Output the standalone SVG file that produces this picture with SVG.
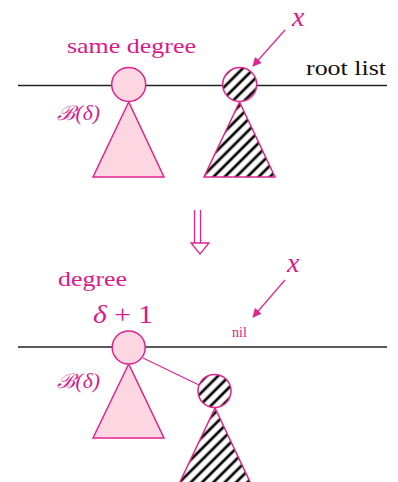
<svg xmlns="http://www.w3.org/2000/svg" width="398" height="482" viewBox="0 0 398 482">
<style>
.node{fill:#fcd7e1;stroke:#e0238f;stroke-width:1.5}
.hatch{fill:url(#hatch);stroke:#e0238f;stroke-width:1.5}
.lbl{font-family:"Liberation Serif","Times New Roman",serif;fill:#d91a8a}
.base{stroke:#222;stroke-width:1.5;fill:none}
.ptr{stroke:#e0238f;stroke-width:1.2;fill:none}
</style>
<defs>
<pattern id="hatch" patternUnits="userSpaceOnUse" width="8" height="8" patternTransform="rotate(-45)">
<rect width="8" height="8" fill="#fff"/>
<line x1="0" y1="4" x2="8" y2="4" stroke="#000" stroke-width="2.7"/>
</pattern>
<marker id="ah" viewBox="0 0 10 10" refX="9" refY="5" markerWidth="9" markerHeight="9" markerUnits="userSpaceOnUse" orient="auto">
<path d="M0,0 L10,5 L0,10 z" fill="#e0238f"/>
</marker>
</defs>

<g id="connectors">
<line class="base" x1="18" y1="85.5" x2="387" y2="85.5"/>
<line class="ptr" x1="285" y1="30" x2="253" y2="66" marker-end="url(#ah)"/>
<g id="transition-arrow" fill="none" stroke="#e0238f" stroke-width="1.3">
<line x1="194.5" y1="210" x2="194.5" y2="243"/>
<line x1="200.5" y1="210" x2="200.5" y2="243"/>
<path d="M191,243 L209,243 L200,254 z" fill="#fff"/>
</g>
<line class="base" x1="18" y1="347" x2="387" y2="347"/>
<line class="ptr" x1="285" y1="280" x2="253" y2="317" marker-end="url(#ah)"/>
<line class="ptr" x1="143" y1="358" x2="199" y2="385"/>
</g>

<g id="top-left">
<polygon class="node" points="128.7,102 93,177 164,177"/>
<circle class="node" cx="128.7" cy="84.5" r="17"/>
</g>
<g id="top-x">
<polygon class="hatch" points="239.5,102 204,177 275,177"/>
<circle class="hatch" cx="239.7" cy="84.5" r="17"/>
</g>

<g id="bottom-left">
<polygon class="node" points="128.7,364 93,438 164,438"/>
<circle class="node" cx="128.7" cy="347.5" r="16.5"/>
</g>
<g id="bottom-x">
<polygon class="hatch" points="215,408 179,484 251,484"/>
<circle class="hatch" cx="214.5" cy="391" r="16.5"/>
</g>

<g id="labels">
<text class="lbl" x="67" y="53" font-size="21" textLength="129" lengthAdjust="spacingAndGlyphs">same degree</text>
<text class="lbl" x="292" y="26" font-size="28" font-style="italic">x</text>
<text x="306" y="75" font-size="21" font-family="Liberation Serif, serif" fill="#111" textLength="80" lengthAdjust="spacingAndGlyphs">root list</text>
<text class="lbl" x="57" y="120" font-size="20" font-style="italic" textLength="43" lengthAdjust="spacingAndGlyphs">ℬ(δ)</text>
<text class="lbl" x="58" y="286" font-size="21" textLength="69" lengthAdjust="spacingAndGlyphs">degree</text>
<text class="lbl" x="93" y="323" font-size="26" textLength="60" lengthAdjust="spacingAndGlyphs"><tspan font-style="italic">δ</tspan> + 1</text>
<text class="lbl" x="287" y="272" font-size="28" font-style="italic">x</text>
<text class="lbl" x="232" y="337" font-size="14">nil</text>
<text class="lbl" x="57" y="388" font-size="20" font-style="italic" textLength="43" lengthAdjust="spacingAndGlyphs">ℬ(δ)</text>
</g>
</svg>
